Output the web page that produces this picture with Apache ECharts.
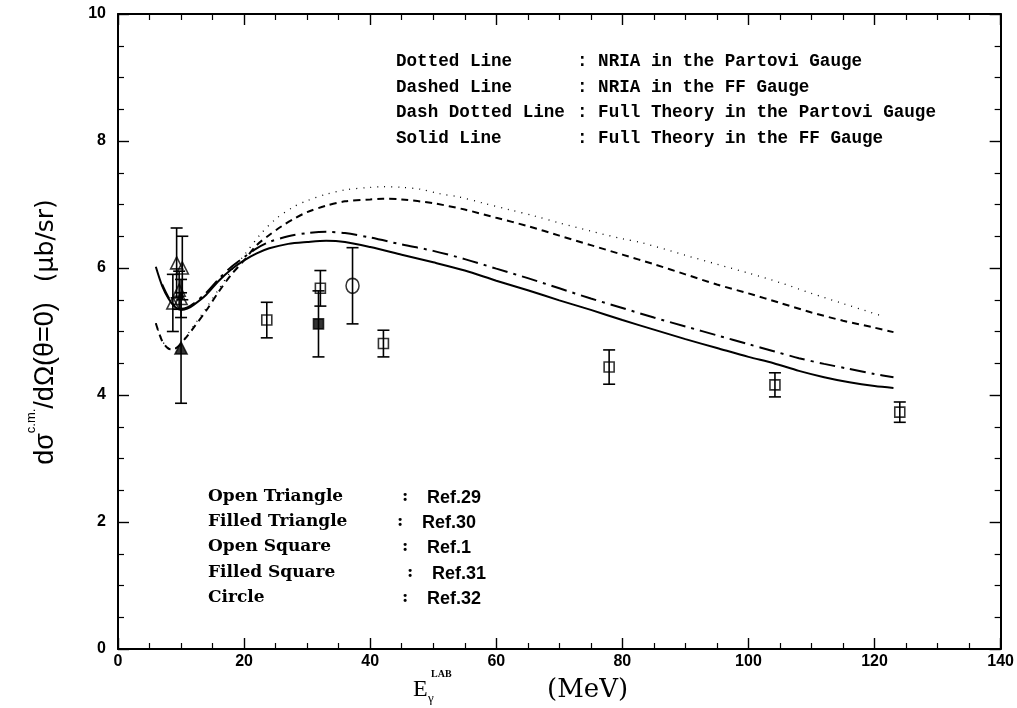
<!DOCTYPE html>
<html>
<head>
<meta charset="utf-8">
<script src="https://cdn.jsdelivr.net/npm/echarts@6/dist/echarts.min.js"></script>
<style>
html,body{margin:0;padding:0;background:#fff;}
#chart{width:1017px;height:708px;}
</style>
</head>
<body>
<div id="chart"></div>
<script>
// ---- Theory curves (E_gamma in MeV, cross section in microbarn/sr) ----
const solidX = [6,7,8,9,10,11,12,14,16,18,20,22,24,27,30,33,36,40,45,50,55,60,65,70,75,80,85,90,95,100,104,108,112,116,120,123];
const solidY = [6.02,5.72,5.52,5.39,5.34,5.36,5.42,5.58,5.80,5.98,6.12,6.23,6.31,6.38,6.41,6.43,6.41,6.33,6.21,6.09,5.96,5.80,5.65,5.49,5.34,5.18,5.03,4.88,4.74,4.60,4.50,4.38,4.28,4.20,4.14,4.11];

const dashDotX = [7,8,9,10,11,12,14,16,18,20,22,24,27,30,33,36,40,45,50,55,60,65,70,75,80,85,90,95,100,104,108,112,116,120,123];
const dashDotY = [5.74,5.54,5.41,5.36,5.38,5.44,5.61,5.83,6.02,6.17,6.31,6.41,6.50,6.55,6.57,6.55,6.48,6.37,6.27,6.14,5.99,5.84,5.68,5.52,5.37,5.22,5.08,4.94,4.80,4.69,4.58,4.49,4.41,4.33,4.28];

const dashedX = [6,7,8,8.6,9.5,11,12,14,16,18,20,22,24,26,28,30,33,36,40,42,45,50,55,60,65,70,75,80,85,90,95,100,105,110,115,120,123];
const dashedY = [5.13,4.85,4.73,4.72,4.76,4.93,5.06,5.33,5.63,5.90,6.12,6.36,6.52,6.66,6.78,6.88,6.98,7.05,7.08,7.09,7.08,7.02,6.92,6.79,6.66,6.51,6.36,6.21,6.06,5.90,5.74,5.60,5.45,5.30,5.17,5.06,4.99];

const dottedX = [6,7,8,9,10,11,12,14,16,18,20,22.5,25,27.8,30,33,36,40,42,45,48,51,54,58,62,66,70,75,80,83,90,95,100,105,110,115,121];
const dottedY = [5.13,4.86,4.74,4.73,4.81,4.95,5.09,5.37,5.67,5.96,6.20,6.52,6.77,6.96,7.06,7.16,7.23,7.27,7.28,7.27,7.24,7.17,7.12,7.02,6.92,6.82,6.71,6.58,6.46,6.40,6.20,6.06,5.92,5.77,5.60,5.44,5.25];

// ---- Experimental data: energy, value, error ----
const ref29X = [8.7,9.3,10.2,9.7,10.0];          // open triangles
const ref29Y = [5.45,6.08,6.00,5.65,5.52];
const ref29E = [0.45,0.55,0.50,0.30,0.30];

const ref30X = [10.0];                             // filled triangle
const ref30Y = [4.74];
const ref30E = [0.87];

const ref1X = [23.6,32.1,42.1,77.9,104.2,124.0];   // open squares
const ref1Y = [5.18,5.68,4.81,4.44,4.16,3.73];
const ref1E = [0.28,0.28,0.21,0.27,0.19,0.16];

const ref31X = [31.8];                             // filled square
const ref31Y = [5.12];
const ref31E = [0.52];

const ref32X = [37.2];                             // circle
const ref32Y = [5.72];
const ref32E = [0.60];

const xTicks = [0,20,40,60,80,100,120,140];
const yTicks = [0,2,4,6,8,10];

const topLabels = ['Dotted Line','Dashed Line','Dash Dotted Line','Solid Line'];
const topDescs = [': NRIA in the Partovi Gauge',': NRIA in the FF Gauge',': Full Theory in the Partovi Gauge',': Full Theory in the FF Gauge'];
const botLabels = ['Open Triangle','Filled Triangle','Open Square','Filled Square','Circle'];
const botRefs = ['Ref.29','Ref.30','Ref.1','Ref.31','Ref.32'];

const pairs = (xs, ys) => xs.map((x,i)=>[x, ys[i]]);
const triples = (xs, ys, es) => xs.map((x,i)=>[x, ys[i], es[i]]);

const chart = echarts.init(document.getElementById('chart'), null, {renderer:'canvas'});

const tickFont = {fontFamily:'Liberation Sans', fontWeight:'bold', fontSize:16, color:'#000'};

function makeX(pos, labels){
  return {
    type:'value', position:pos, min:0, max:140, interval:20,
    axisLine:{show:true, onZero:false, lineStyle:{color:'#000', width:2}},
    axisTick:{show:true, inside:true, length:11, lineStyle:{color:'#000', width:1.4}},
    minorTick:{show:true, splitNumber:4, length:6, lineStyle:{color:'#000', width:1.2}},
    splitLine:{show:false}, minorSplitLine:{show:false},
    axisLabel: labels ? Object.assign({show:true, margin:5, formatter:v=>xTicks.includes(v)?String(v):''}, tickFont) : {show:false}
  };
}
function makeY(pos, labels){
  return {
    type:'value', position:pos, min:0, max:10, interval:2,
    axisLine:{show:true, onZero:false, lineStyle:{color:'#000', width:2}},
    axisTick:{show:true, inside:true, length:11, lineStyle:{color:'#000', width:1.4}},
    minorTick:{show:true, splitNumber:4, length:6, lineStyle:{color:'#000', width:1.2}},
    splitLine:{show:false}, minorSplitLine:{show:false},
    axisLabel: labels ? Object.assign({show:true, margin:12, formatter:v=>yTicks.includes(v)?String(v):''}, tickFont) : {show:false}
  };
}

function errorSeries(data, capHalf){
  return {
    type:'custom', xAxisIndex:0, yAxisIndex:0, data:data, z:3,
    encode:{x:0, y:1},
    renderItem:function(params, api){
      const x = api.value(0), y = api.value(1), e = api.value(2);
      const t = api.coord([x, y+e]), b = api.coord([x, y-e]);
      const st = {stroke:'#000', lineWidth:1.6};
      return {type:'group', children:[
        {type:'line', shape:{x1:t[0], y1:t[1], x2:b[0], y2:b[1]}, style:st},
        {type:'line', shape:{x1:t[0]-capHalf, y1:t[1], x2:t[0]+capHalf, y2:t[1]}, style:st},
        {type:'line', shape:{x1:b[0]-capHalf, y1:b[1], x2:b[0]+capHalf, y2:b[1]}, style:st}
      ]};
    }
  };
}
function lineSeries(name, data, type, width){
  return {
    name:name, type:'line', data:data, smooth:0.3, showSymbol:false, symbol:'none',
    xAxisIndex:0, yAxisIndex:0, z:2,
    lineStyle:{color:'#000', width:width, type:type}
  };
}
function markerSeries(data, symbol, size, filled){
  return {
    type:'scatter', data:data, symbol:symbol, symbolSize:size, z:4,
    xAxisIndex:0, yAxisIndex:0,
    itemStyle:{color: filled ? '#000' : 'rgba(0,0,0,0)', borderColor:'#000', borderWidth:1.6}
  };
}

const topRowsY = [62,88,113,139];
const botColonX = [402,397,402,407,402];
const botRowsY = [497,522,547,573,598];

const graphics = [];
topLabels.forEach((t,i)=>{
  graphics.push({type:'text', x:396, y:topRowsY[i], style:{text:t, fontFamily:'Liberation Mono', fontWeight:'bold', fontSize:17.6, fill:'#000', verticalAlign:'middle'}});
  graphics.push({type:'text', x:577, y:topRowsY[i], style:{text:topDescs[i], fontFamily:'Liberation Mono', fontWeight:'bold', fontSize:17.6, fill:'#000', verticalAlign:'middle'}});
});
botLabels.forEach((t,i)=>{
  graphics.push({type:'text', x:208, y:botRowsY[i], style:{text:t, fontFamily:'DejaVu Serif', fontWeight:'bold', fontSize:17, fill:'#000', verticalAlign:'middle'}});
  graphics.push({type:'text', x:botColonX[i], y:botRowsY[i], style:{text:':', fontFamily:'DejaVu Serif', fontWeight:'bold', fontSize:17, fill:'#000', verticalAlign:'middle'}});
  graphics.push({type:'text', x:botColonX[i]+25, y:botRowsY[i]+1, style:{text:botRefs[i], fontFamily:'Liberation Sans', fontWeight:'bold', fontSize:18, fill:'#000', verticalAlign:'middle'}});
});
// y axis title (rotated)
graphics.push({
  type:'text', x:42, y:332, rotation:Math.PI/2,
  style:{
    text:'{a|dσ}{s|c.m.}{a|/dΩ(θ=0)}{g|}{b|(μb/sr)}',
    align:'center', verticalAlign:'middle',
    rich:{
      a:{fontFamily:'Liberation Sans', fontSize:27, fill:'#000', verticalAlign:'bottom', lineHeight:34},
      s:{fontFamily:'Liberation Sans', fontSize:13, fill:'#000', verticalAlign:'top', lineHeight:34},
      g:{width:20, lineHeight:34},
      b:{fontFamily:'DejaVu Sans', fontSize:25, fill:'#000', verticalAlign:'bottom', lineHeight:34}
    }
  }
});
// x axis title
graphics.push({type:'text', x:413, y:690, style:{text:'E', fontFamily:'Liberation Serif', fontSize:24, fill:'#000', verticalAlign:'middle'}});
graphics.push({type:'text', x:428, y:699, style:{text:'γ', fontFamily:'Liberation Serif', fontSize:13, fill:'#000', verticalAlign:'middle'}});
graphics.push({type:'text', x:431, y:674, style:{text:'LAB', fontFamily:'Liberation Serif', fontWeight:'bold', fontSize:10, fill:'#000', verticalAlign:'middle'}});
graphics.push({type:'text', x:547, y:690, style:{text:'(MeV)', fontFamily:'DejaVu Serif', fontSize:26, fill:'#000', verticalAlign:'middle'}});

const option = {
  backgroundColor:'#fff',
  animation:false,
  grid:{left:118, right:16, top:14, bottom:59, containLabel:false},
  xAxis:[makeX('bottom', true), makeX('top', false)],
  yAxis:[makeY('left', true), makeY('right', false)],
  graphic:graphics,
  series:[
    lineSeries('dotted', pairs(dottedX, dottedY), [1,6], 1.3),
    lineSeries('dashed', pairs(dashedX, dashedY), [7,5], 2),
    lineSeries('dashdot', pairs(dashDotX, dashDotY), [16,6,3,6], 2),
    lineSeries('solid', pairs(solidX, solidY), 'solid', 2),
    errorSeries(triples(ref29X, ref29Y, ref29E), 6),
    errorSeries(triples(ref30X, ref30Y, ref30E), 6),
    errorSeries(triples(ref1X, ref1Y, ref1E), 6),
    errorSeries(triples(ref31X, ref31Y, ref31E), 6),
    errorSeries(triples(ref32X, ref32Y, ref32E), 6),
    markerSeries(pairs(ref29X, ref29Y), 'triangle', 12, false),
    markerSeries(pairs(ref30X, ref30Y), 'triangle', 12, true),
    markerSeries(pairs(ref1X, ref1Y), 'rect', 10, false),
    markerSeries(pairs(ref31X, ref31Y), 'rect', 10, true),
    markerSeries(pairs(ref32X, ref32Y), 'circle', [13,15], false)
  ]
};
chart.setOption(option);
</script>
</body>
</html>
